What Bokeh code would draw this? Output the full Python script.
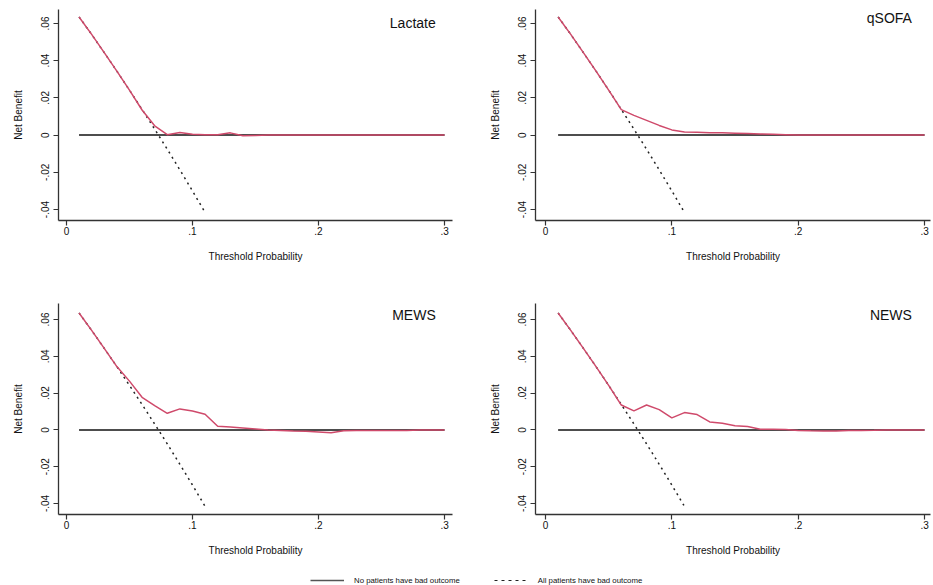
from bokeh.plotting import figure
from bokeh.layouts import column, row
from bokeh.models import FixedTicker, Legend, LegendItem, Label, Range1d
from bokeh.embed import file_html
from bokeh.resources import INLINE

# ---------------- data ----------------
thresholds = [0.01, 0.02, 0.03, 0.04, 0.05, 0.06, 0.07, 0.08, 0.09, 0.10,
              0.11, 0.12, 0.13, 0.14, 0.15, 0.16, 0.17, 0.18, 0.19, 0.20,
              0.21, 0.22, 0.23, 0.24, 0.25, 0.26, 0.27, 0.28, 0.29, 0.30]
treat_none = [0.0] * 30

treat_all_x = [0.01, 0.02, 0.03, 0.04, 0.05, 0.06, 0.07, 0.08, 0.09, 0.10, 0.11]
treat_all = [0.0635, 0.0541, 0.0443, 0.0344, 0.0242, 0.0138, 0.0032,
             -0.0076, -0.0187, -0.0300, -0.0416]

lactate = [0.0635, 0.0541, 0.0443, 0.0344, 0.0242, 0.0135, 0.0050, 0.0002, 0.0014, 0.0005,
           0.0002, 0.0002, 0.0012, -0.0004, -0.0002, 0.0, 0.0, 0.0, 0.0, 0.0,
           0.0, 0.0, 0.0, 0.0, 0.0, 0.0, 0.0, 0.0, 0.0, 0.0]
qsofa = [0.0635, 0.0541, 0.0443, 0.0344, 0.0242, 0.0137, 0.0106, 0.0079, 0.0052, 0.0028,
         0.0017, 0.0015, 0.0013, 0.0012, 0.0010, 0.0008, 0.0006, 0.0004, 0.0002, 0.0,
         0.0, 0.0, 0.0, 0.0, 0.0, 0.0, 0.0, 0.0, 0.0, 0.0]
mews = [0.0635, 0.0541, 0.0443, 0.0344, 0.0265, 0.0177, 0.0132, 0.0090, 0.0114, 0.0103,
        0.0085, 0.0020, 0.0015, 0.0010, 0.0005, 0.0, -0.0003, -0.0006, -0.0008, -0.0011,
        -0.0016, -0.0005, -0.0004, -0.0004, -0.0004, -0.0004, -0.0003, 0.0, 0.0, 0.0]
news = [0.0635, 0.0541, 0.0443, 0.0344, 0.0242, 0.0135, 0.0103, 0.0135, 0.0110, 0.0065,
        0.0094, 0.0083, 0.0043, 0.0036, 0.0023, 0.0018, 0.0004, 0.0003, 0.0002, -0.0003,
        -0.0005, -0.0006, -0.0006, -0.0004, -0.0003, -0.0002, 0.0, 0.0, 0.0, 0.0]

panel_names = ["Lactate", "qSOFA", "MEWS", "NEWS"]

x_ticks = [0, 0.1, 0.2, 0.3]
x_tick_labels = ["0", ".1", ".2", ".3"]
y_ticks = [-0.04, -0.02, 0, 0.02, 0.04, 0.06]
y_tick_labels = ["-.04", "-.02", "0", ".02", ".04", ".06"]

legend_labels = ["No patients have bad outcome", "All patients have bad outcome"]

# ---------------- style ----------------
FONT = "Liberation Sans"
MODEL_COLOR = "#cf4a6b"
AXIS_COLOR = "#333333"


def panel(name, nb, width, height, bl, br, bt, bb, xr, yr, title_pos):
    p = figure(width=width, height=height, output_backend="svg", toolbar_location=None,
               x_range=Range1d(*xr), y_range=Range1d(*yr),
               min_border_left=bl, min_border_right=br,
               min_border_top=bt, min_border_bottom=bb)
    p.outline_line_color = None
    p.grid.visible = False
    p.background_fill_color = "white"
    p.border_fill_color = "white"

    p.line(thresholds, treat_none, line_color="#4d4d4d", line_width=2)
    p.line(treat_all_x, treat_all, line_color="#222222", line_width=1.5, line_dash="2 4")
    p.line(thresholds, nb, line_color=MODEL_COLOR, line_width=1.5)

    p.xaxis.ticker = FixedTicker(ticks=x_ticks)
    p.xaxis.major_label_overrides = dict(zip(x_ticks, x_tick_labels))
    p.yaxis.ticker = FixedTicker(ticks=y_ticks)
    p.yaxis.major_label_overrides = dict(zip(y_ticks, y_tick_labels))
    p.yaxis.major_label_orientation = "vertical"

    p.xaxis.axis_label = "Threshold Probability"
    p.yaxis.axis_label = "Net Benefit"
    for ax in (p.xaxis, p.yaxis):
        ax.axis_line_color = AXIS_COLOR
        ax.axis_line_width = 1.3
        ax.major_tick_line_color = AXIS_COLOR
        ax.major_tick_line_width = 1.2
        ax.major_tick_out = 5
        ax.major_tick_in = 0
        ax.minor_tick_line_color = None
        ax.major_label_text_font = FONT
        ax.major_label_text_font_size = "10px"
        ax.major_label_text_color = "#111111"
        ax.axis_label_text_font = FONT
        ax.axis_label_text_font_size = "10px"
        ax.axis_label_text_font_style = "normal"
        ax.axis_label_text_color = "#111111"
    p.xaxis.major_label_standoff = 1
    p.xaxis.axis_label_standoff = 13
    p.yaxis.major_label_standoff = 4
    p.yaxis.axis_label_standoff = 15

    p.add_layout(Label(x=title_pos[0], y=title_pos[1], text=name, text_align="right",
                       text_baseline="middle", text_font=FONT, text_font_size="14px",
                       text_color="#111111"))
    return p


top_y = (-0.0459, 0.0675)
bot_y = (-0.0460, 0.0687)
left_x = (-0.0063, 0.3063)
right_x = (-0.0079, 0.3047)

p1 = panel(panel_names[0], lactate, 478, 290, 58, 26, 9, 70, left_x, top_y, (0.293, 0.060))
p2 = panel(panel_names[1], qsofa, 455, 290, 57, 3, 9, 70, right_x, top_y, (0.290, 0.063))
p3 = panel(panel_names[2], mews, 478, 270, 58, 26, 13, 46, left_x, bot_y, (0.293, 0.0627))
p4 = panel(panel_names[3], news, 455, 270, 57, 3, 13, 46, right_x, bot_y, (0.290, 0.0627))

# ---------------- legend strip ----------------
# the legend's renderers carry the reference series but sit outside the strip's visible range
lf = figure(width=933, height=25, output_backend="svg", toolbar_location=None,
            x_range=Range1d(0, 1), y_range=Range1d(1, 2),
            x_axis_location=None, y_axis_location=None,
            min_border_left=0, min_border_right=0, min_border_top=0, min_border_bottom=0)
lf.outline_line_color = None
lf.grid.visible = False
r_none = lf.line(thresholds, treat_none, line_color="#555555", line_alpha=1.0, line_width=1.3)
r_all = lf.line(treat_all_x, treat_all, line_color="#222222", line_alpha=1.0, line_width=1.2,
                line_dash="3 4")
leg = Legend(items=[LegendItem(label=legend_labels[0], renderers=[r_none]),
                    LegendItem(label=legend_labels[1], renderers=[r_all])],
             orientation="horizontal", location=(310, 0),
             glyph_width=34, glyph_height=10, label_standoff=10, spacing=34,
             padding=0, margin=0, label_text_font=FONT, label_text_font_size="7.8px",
             label_text_color="#111111", border_line_color=None, background_fill_alpha=0,
             label_height=10)
lf.add_layout(leg, "center")

layout = column(row(p1, p2), row(p3, p4), lf)

open("out.html", "w").write(file_html(layout, INLINE))
